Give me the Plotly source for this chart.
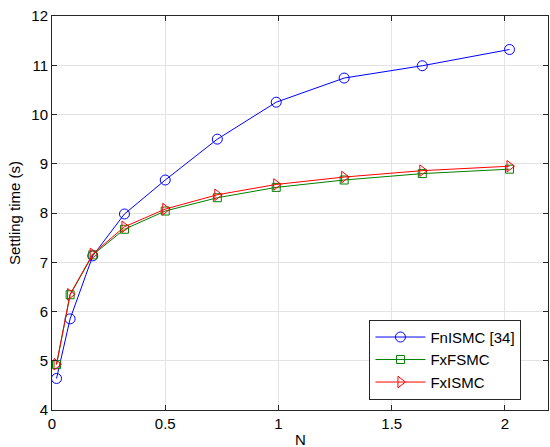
import plotly.graph_objects as go

N = [0.02, 0.08, 0.18, 0.32, 0.5, 0.73, 0.99, 1.29, 1.635, 2.02]
fnismc = [4.64, 5.85, 7.13, 7.98, 8.67, 9.50, 10.25, 10.74, 10.99, 11.32]
fxfsmc = [4.92, 6.34, 7.15, 7.67, 8.04, 8.31, 8.52, 8.67, 8.80, 8.89]
fxismc = [4.93, 6.35, 7.17, 7.72, 8.08, 8.37, 8.58, 8.73, 8.86, 8.95]
x_ticks = [0, 0.5, 1, 1.5, 2]
x_ticklabels = ["0", "0.5", "1", "1.5", "2"]
y_ticks = [4, 5, 6, 7, 8, 9, 10, 11, 12]

fig = go.Figure()
fig.add_trace(go.Scatter(x=N, y=fnismc, name="FnISMC [34]", mode="lines+markers",
                         line=dict(color="#0000ff", width=1),
                         marker=dict(symbol="circle-open", size=10, color="#0000ff", line=dict(width=1))))
fig.add_trace(go.Scatter(x=N, y=fxfsmc, name="FxFSMC", mode="lines+markers",
                         line=dict(color="#008000", width=1),
                         marker=dict(symbol="square-open", size=8, color="#008000", line=dict(width=1))))
fig.add_trace(go.Scatter(x=N, y=fxismc, name="FxISMC", mode="lines+markers",
                         line=dict(color="#ff0000", width=1),
                         marker=dict(symbol="triangle-right-open", size=10, color="#ff0000", line=dict(width=1))))

FONT = "Liberation Sans, Arial"
axis_common = dict(showline=True, linecolor="#262626", linewidth=1, mirror="allticks",
                   ticks="inside", ticklen=5, tickcolor="#262626", automargin=False,
                   showgrid=True, gridcolor="#e3e3e3", gridwidth=1, zeroline=False,
                   tickfont=dict(family=FONT, size=15, color="#000000"))

fig.update_layout(
    width=550, height=447,
    margin=dict(l=52, r=2, t=16, b=37),
    paper_bgcolor="white", plot_bgcolor="white",
    font=dict(family=FONT, size=15, color="#000000"),
    xaxis=dict(range=[0, 2.19], tickvals=x_ticks, ticktext=x_ticklabels, **axis_common),
    yaxis=dict(range=[4, 12], tickvals=y_ticks,
               title=dict(text="Settling time (s)", standoff=7, font=dict(size=15)), **axis_common),
    legend=dict(x=0.64, y=0.229, xanchor="left", yanchor="top",
                bgcolor="white", bordercolor="#262626", borderwidth=1,
                font=dict(size=15), tracegroupgap=0, itemwidth=50),
    showlegend=True,
    annotations=[dict(text="N", xref="paper", yref="paper", x=0.5, y=0,
                      xanchor="center", yanchor="top", yshift=-19, showarrow=False,
                      font=dict(family=FONT, size=15, color="#000000"))],
)

fig.write_html("out.html")
